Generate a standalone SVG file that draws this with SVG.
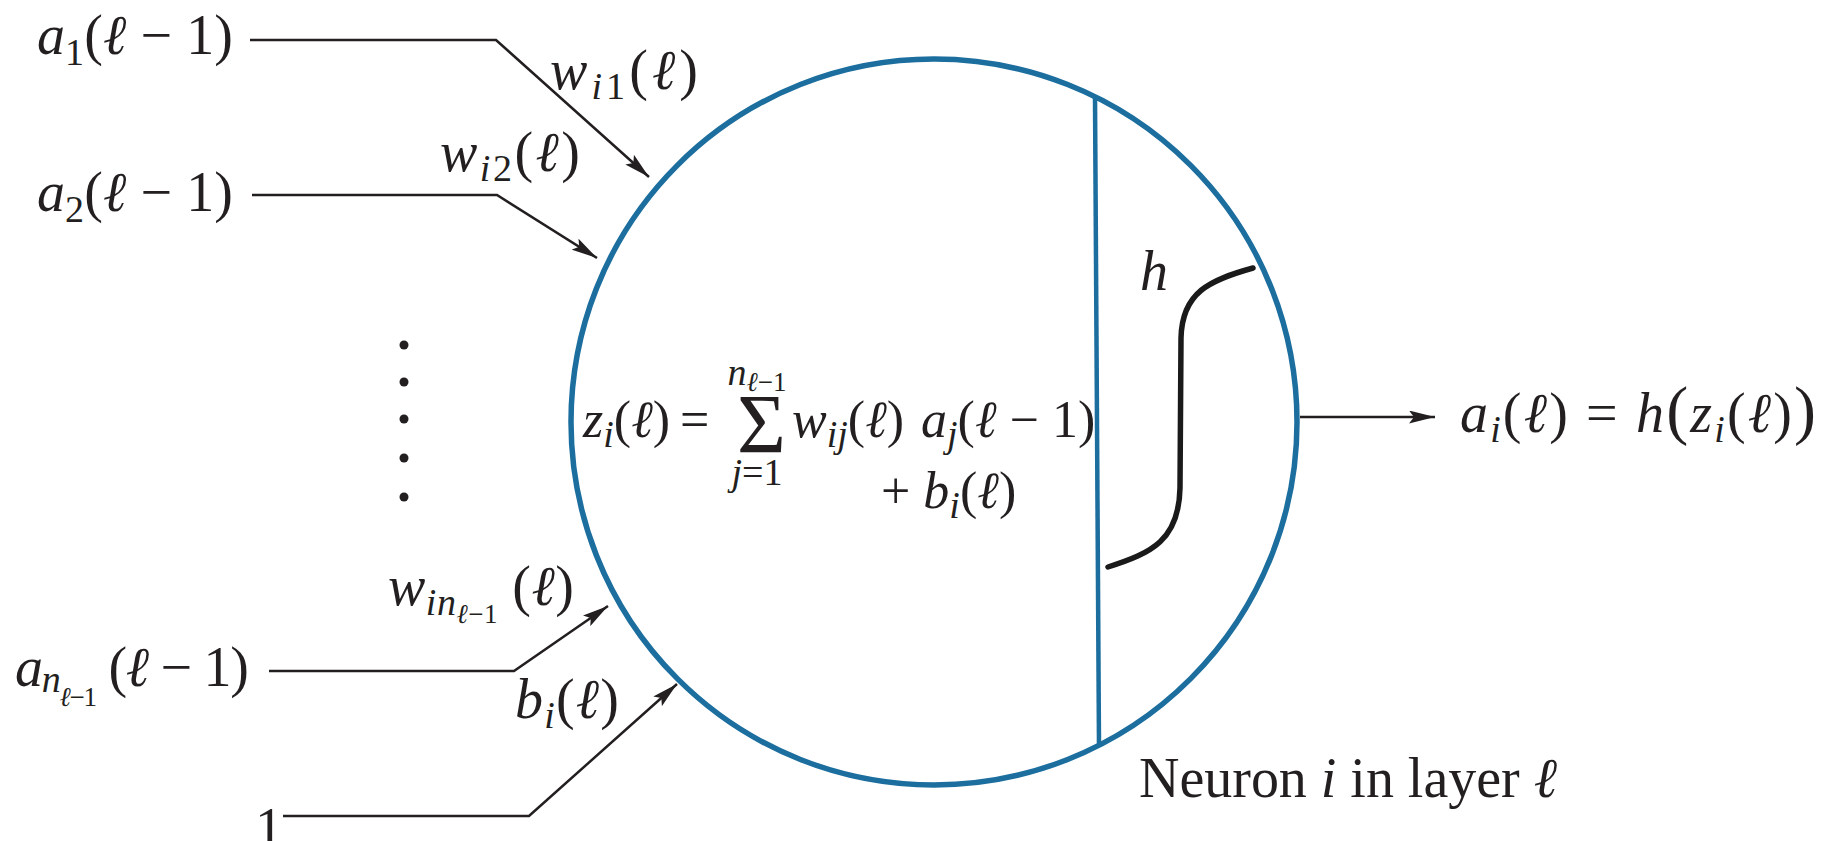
<svg xmlns="http://www.w3.org/2000/svg" width="1829" height="841" viewBox="0 0 1829 841">
<style>
.t{font-family:"Liberation Serif","Times New Roman",serif;font-size:52px;fill:#231f20}
.L{font-size:56px}
.i{font-style:italic}
.sb{font-size:38px}
.ss{font-size:27px}
.conn{fill:none;stroke:#231f20;stroke-width:2.5}
.blue{fill:none;stroke:#1c6e9f}
</style>
<defs>
<marker id="ah" markerUnits="userSpaceOnUse" viewBox="0 0 26 13" refX="26" refY="6.5" markerWidth="26" markerHeight="13" orient="auto">
<path d="M0,0 L26,6.5 L0,13 L5,6.5 z" fill="#231f20"/>
</marker>
</defs>
<rect width="1829" height="841" fill="#ffffff"/>

<g id="neuron">
<circle class="blue" cx="934" cy="422" r="363" stroke-width="5.5"/>
<line class="blue" x1="1095" y1="97" x2="1099" y2="747" stroke-width="4.5"/>
<path d="M1108,567 C1152,553 1179,540 1180,488 L1181,338 C1182,292 1210,280 1253,268" fill="none" stroke="#1a1a1a" stroke-width="5.5" stroke-linecap="round"/>
<text class="t i L" x="1140" y="290">h</text>
<text class="t" x="583" y="437"><tspan class="i">z</tspan><tspan class="sb i" dy="10">i</tspan><tspan dy="-10">(</tspan><tspan class="i">ℓ</tspan>)</text>
<text class="t" x="680" y="437">=</text>
<text class="t" x="737" y="453" style="font-size:84px">Σ</text>
<text class="t" x="757" y="385" text-anchor="middle"><tspan class="sb i">n</tspan><tspan class="ss i" dy="6">ℓ</tspan><tspan class="ss">−1</tspan></text>
<text class="t" x="757" y="485" text-anchor="middle"><tspan class="sb i">j</tspan><tspan class="sb">=1</tspan></text>
<text class="t" x="792" y="437"><tspan class="i">w</tspan><tspan class="sb i" dy="10">ij</tspan><tspan dy="-10">(</tspan><tspan class="i">ℓ</tspan>)</text>
<text class="t" x="921" y="437"><tspan class="i">a</tspan><tspan class="sb i" dy="10">j</tspan><tspan dy="-10">(</tspan><tspan class="i">ℓ</tspan> − 1)</text>
<text class="t" x="881" y="508">+ <tspan class="i">b</tspan><tspan class="sb i" dy="10">i</tspan><tspan dy="-10">(</tspan><tspan class="i">ℓ</tspan>)</text>
</g>

<g id="input1">
<text class="t L" x="37" y="54" textLength="196" lengthAdjust="spacing"><tspan class="i">a</tspan><tspan class="sb" dy="11">1</tspan><tspan dy="-11">(</tspan><tspan class="i">ℓ</tspan> − 1)</text>
<text class="t L" x="550" y="89" textLength="148" lengthAdjust="spacing"><tspan class="i">w</tspan><tspan class="sb" dy="10"><tspan class="i">i</tspan>1</tspan><tspan dy="-10">(</tspan><tspan class="i">ℓ</tspan>)</text>
</g>
<g id="input2">
<text class="t L" x="37" y="211" textLength="196" lengthAdjust="spacing"><tspan class="i">a</tspan><tspan class="sb" dy="11">2</tspan><tspan dy="-11">(</tspan><tspan class="i">ℓ</tspan> − 1)</text>
<text class="t L" x="440" y="171" textLength="140" lengthAdjust="spacing"><tspan class="i">w</tspan><tspan class="sb" dy="10"><tspan class="i">i</tspan>2</tspan><tspan dy="-10">(</tspan><tspan class="i">ℓ</tspan>)</text>
</g>
<g id="dots" fill="#231f20">
<circle cx="404" cy="345" r="4.5"/>
<circle cx="404" cy="382" r="4.5"/>
<circle cx="404" cy="419" r="4.5"/>
<circle cx="404" cy="458" r="4.5"/>
<circle cx="404" cy="497" r="4.5"/>
</g>
<g id="inputn">
<text class="t L" x="15" y="686" textLength="234" lengthAdjust="spacing"><tspan class="i">a</tspan><tspan class="sb i" dy="6">n</tspan><tspan class="ss i" dy="14">ℓ</tspan><tspan class="ss">−1</tspan><tspan dy="-20"> (</tspan><tspan class="i">ℓ</tspan> − 1)</text>
<text class="t L" x="388" y="605" textLength="186" lengthAdjust="spacing"><tspan class="i">w</tspan><tspan class="sb i" dy="10">in</tspan><tspan class="ss i" dy="8">ℓ</tspan><tspan class="ss">−1</tspan><tspan dy="-18"> (</tspan><tspan class="i">ℓ</tspan>)</text>
</g>
<g id="bias">
<text class="t L" x="255" y="847">1</text>
<text class="t L" x="515" y="718" textLength="104" lengthAdjust="spacing"><tspan class="i">b</tspan><tspan class="sb i" dy="10">i</tspan><tspan dy="-10">(</tspan><tspan class="i">ℓ</tspan>)</text>
</g>
<g id="output">
<text class="t L" x="1460" y="432" textLength="356" lengthAdjust="spacing"><tspan class="i">a</tspan><tspan class="sb i" dy="10">i</tspan><tspan dy="-10">(</tspan><tspan class="i">ℓ</tspan>) = <tspan class="i">h</tspan><tspan style="font-size:66px">(</tspan><tspan class="i">z</tspan><tspan class="sb i" dy="10">i</tspan><tspan dy="-10">(</tspan><tspan class="i">ℓ</tspan>)<tspan style="font-size:66px">)</tspan></text>
</g>
<g id="label">
<text class="t L" x="1139" y="797" textLength="418" lengthAdjust="spacing">Neuron <tspan class="i">i</tspan> in layer <tspan class="i">ℓ</tspan></text>
</g>

<g id="connectors">
<path class="conn" d="M250,40 L496,40 L649,177" marker-end="url(#ah)"/>
<path class="conn" d="M252,195 L497,195 L597,258" marker-end="url(#ah)"/>
<path class="conn" d="M269,671 L514,671 L608,606" marker-end="url(#ah)"/>
<path class="conn" d="M283,816 L529,816 L677,684" marker-end="url(#ah)"/>
<path class="conn" d="M1300,417 L1435,417" marker-end="url(#ah)"/>
</g>
</svg>
